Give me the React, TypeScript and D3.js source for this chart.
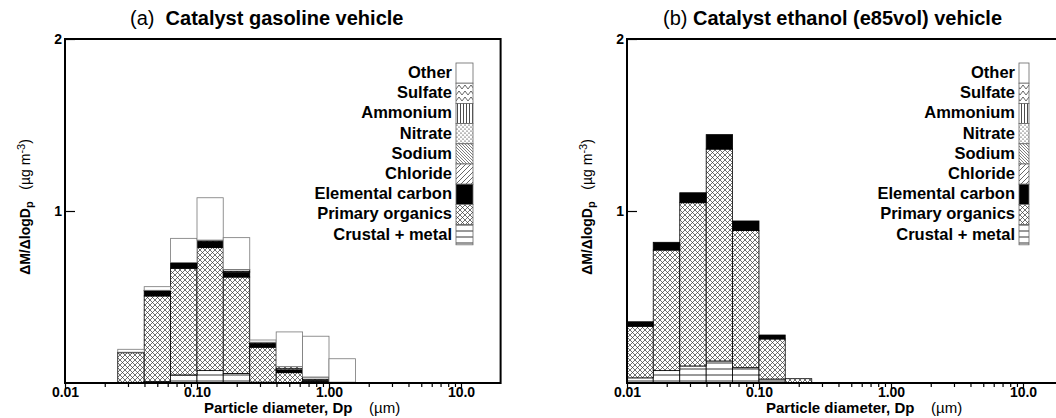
import React, { useEffect, useRef } from "react";
import * as d3 from "d3";

// stacking order, bottom to top
const keys = ["crustal", "organics", "ec", "chloride", "sodium", "nitrate", "ammonium", "sulfate", "other"];
// legend, top to bottom
const legendKeys = ["other", "sulfate", "ammonium", "nitrate", "sodium", "chloride", "ec", "organics", "crustal"];
const legendLabels = ["Other", "Sulfate", "Ammonium", "Nitrate", "Sodium", "Chloride", "Elemental carbon", "Primary organics", "Crustal + metal"];

const xTickValues = [0.01, 0.1, 1, 10];
const xTickLabels = ["0.01", "0.10", "1.00", "10.0"];
const yTickValues = [1, 2];

// (a) catalyst gasoline vehicle, bin edges in um
const gasEdges = [0.0251, 0.0398, 0.0631, 0.1, 0.158, 0.251, 0.398, 0.631, 1.0, 1.585];
const gasCrustal = [0.004, 0.008, 0.047, 0.072, 0.056, 0.005, 0.003, 0.002, 0];
const gasOrganics = [0.172, 0.498, 0.62, 0.715, 0.56, 0.203, 0.057, 0.008, 0.001];
const gasEC = [0.003, 0.03, 0.033, 0.033, 0.028, 0.019, 0.016, 0.004, 0.004];
const gasChloride = [0, 0, 0, 0, 0, 0, 0, 0, 0];
const gasSodium = [0, 0, 0, 0, 0, 0, 0, 0, 0];
const gasNitrate = [0, 0, 0, 0.004, 0.006, 0.004, 0.007, 0.008, 0];
const gasAmmonium = [0, 0, 0, 0, 0, 0, 0, 0, 0];
const gasSulfate = [0, 0.003, 0, 0.007, 0.01, 0.006, 0.012, 0.013, 0];
const gasOther = [0.017, 0.021, 0.141, 0.246, 0.185, 0.013, 0.202, 0.237, 0.136];

// (b) catalyst ethanol (e85vol) vehicle
const ethEdges = [0.01, 0.0158, 0.0251, 0.0398, 0.0631, 0.1, 0.158, 0.251];
const ethCrustal = [0.03, 0.072, 0.099, 0.128, 0.089, 0.023, 0];
const ethOrganics = [0.3, 0.701, 0.949, 1.232, 0.797, 0.233, 0.025];
const ethEC = [0.026, 0.045, 0.058, 0.084, 0.056, 0.023, 0];
const ethChloride = [0, 0, 0, 0, 0, 0, 0];
const ethSodium = [0, 0, 0, 0, 0, 0, 0];
const ethNitrate = [0, 0, 0, 0, 0, 0, 0];
const ethAmmonium = [0, 0, 0, 0, 0, 0, 0];
const ethSulfate = [0, 0, 0, 0, 0, 0, 0];
const ethOther = [0, 0, 0, 0, 0, 0, 0];

const FONT = "'Liberation Sans', Arial, Helvetica, sans-serif";

const fills = {
  crustal: "url(#p-crust)",
  organics: "url(#p-org)",
  ec: "#000",
  chloride: "url(#p-chl)",
  sodium: "url(#p-sod)",
  nitrate: "url(#p-nit)",
  ammonium: "url(#p-amm)",
  sulfate: "url(#p-sul)",
  other: "#fff",
};

function makeRows(edges, cols) {
  return edges.slice(0, -1).map((lo, i) => {
    const r = { lo: lo, hi: edges[i + 1] };
    keys.forEach((k) => (r[k] = cols[k][i]));
    return r;
  });
}

function addPatterns(defs) {
  const pat = (id, w, h) => {
    const p = defs
      .append("pattern")
      .attr("id", id)
      .attr("patternUnits", "userSpaceOnUse")
      .attr("width", w)
      .attr("height", h);
    p.append("rect").attr("width", w).attr("height", h).attr("fill", "#fff");
    return p;
  };
  pat("p-org", 5, 5)
    .append("path")
    .attr("d", "M0,0L5,5M5,0L0,5")
    .attr("stroke", "#333")
    .attr("stroke-width", 0.7);
  pat("p-crust", 6, 6)
    .append("path")
    .attr("d", "M0,3H6")
    .attr("stroke", "#000")
    .attr("stroke-width", 0.8);
  pat("p-chl", 5, 5)
    .append("path")
    .attr("d", "M0,5L5,0M-1,1L1,-1M4,6L6,4")
    .attr("stroke", "#000")
    .attr("stroke-width", 0.6);
  pat("p-sod", 3, 3)
    .append("path")
    .attr("d", "M0,0L3,3M-1,2L1,4M2,-1L4,1")
    .attr("stroke", "#000")
    .attr("stroke-width", 0.5);
  const nit = pat("p-nit", 4, 4);
  nit.append("circle").attr("cx", 1).attr("cy", 1).attr("r", 0.6).attr("fill", "#000");
  nit.append("circle").attr("cx", 3).attr("cy", 3).attr("r", 0.6).attr("fill", "#000");
  pat("p-amm", 3, 3)
    .append("path")
    .attr("d", "M1.5,0V3")
    .attr("stroke", "#000")
    .attr("stroke-width", 0.7);
  pat("p-sul", 6, 6)
    .append("path")
    .attr("d", "M0,5L3,1L6,5")
    .attr("fill", "none")
    .attr("stroke", "#000")
    .attr("stroke-width", 0.6);
}

function drawPanel(svg, p) {
  const top = 39,
    bottom = 383,
    decade = 132;
  const x = d3
    .scaleLog()
    .domain([0.01, Math.pow(10, 1.3)])
    .range([p.left, p.left + 3.3 * decade]);
  const y = d3.scaleLinear().domain([0, 2]).range([bottom, top]);
  const g = svg.append("g");

  const series = d3.stack().keys(keys)(p.rows);
  series.forEach((layer) => {
    g.append("g")
      .selectAll("rect")
      .data(layer.filter((d) => d[1] - d[0] > 0))
      .enter()
      .append("rect")
      .attr("x", (d) => x(d.data.lo))
      .attr("width", (d) => x(d.data.hi) - x(d.data.lo))
      .attr("y", (d) => y(d[1]))
      .attr("height", (d) => y(d[0]) - y(d[1]))
      .attr("fill", fills[layer.key])
      .attr("stroke", layer.key === "other" ? "#777" : "#000")
      .attr("stroke-width", 0.8);
  });

  // frame
  g.append("rect")
    .attr("x", p.left)
    .attr("y", top)
    .attr("width", 3.3 * decade)
    .attr("height", bottom - top)
    .attr("fill", "none")
    .attr("stroke", "#000")
    .attr("stroke-width", 2);

  // x axis: minor + major ticks
  const minor = [];
  [0.01, 0.1, 1, 10].forEach((d) => {
    for (let k = 2; k <= 9; k++) if (d * k < 19.9) minor.push(d * k);
  });
  const axisMinor = g
    .append("g")
    .attr("transform", "translate(0," + bottom + ")")
    .call(d3.axisBottom(x).tickValues(minor).tickSize(4).tickFormat(() => ""));
  axisMinor.select(".domain").remove();
  const axisMajor = g
    .append("g")
    .attr("transform", "translate(0," + bottom + ")")
    .call(
      d3
        .axisBottom(x)
        .tickValues(xTickValues)
        .tickSize(6)
        .tickPadding(-2)
        .tickFormat((d, i) => xTickLabels[i])
    );
  axisMajor.select(".domain").remove();
  axisMajor
    .selectAll("text")
    .attr("font-family", FONT)
    .attr("font-weight", "bold")
    .attr("font-size", 14)
    .attr("fill", "#000");
  g.selectAll(".tick line").attr("stroke", "#000").attr("stroke-width", 1.2);

  // y axis
  const axisY = g
    .append("g")
    .attr("transform", "translate(" + p.left + ",0)")
    .call(
      d3
        .axisLeft(y)
        .tickValues(yTickValues)
        .tickSizeInner(-10)
        .tickSizeOuter(0)
        .tickPadding(3)
        .tickFormat(d3.format("d"))
    );
  axisY.select(".domain").remove();
  axisY.selectAll("line").attr("stroke", "#000").attr("stroke-width", 1.2);
  axisY
    .selectAll("text")
    .attr("font-family", FONT)
    .attr("font-weight", "bold")
    .attr("font-size", 14)
    .attr("fill", "#000");

  // legend
  const rowH = 20.2;
  legendKeys.forEach((k, i) => {
    const ty = 63 + i * rowH;
    g.append("rect")
      .attr("x", p.legendX)
      .attr("y", ty)
      .attr("width", p.legendW)
      .attr("height", rowH)
      .attr("fill", fills[k])
      .attr("stroke", "#666")
      .attr("stroke-width", 0.8);
    g.append("text")
      .attr("x", p.legendX - 4)
      .attr("y", ty + 15)
      .attr("text-anchor", "end")
      .attr("font-family", FONT)
      .attr("font-weight", "bold")
      .attr("font-size", 16.5)
      .text(legendLabels[i]);
  });

  // title
  const title = g
    .append("text")
    .attr("x", p.titleX)
    .attr("y", 25)
    .attr("font-family", FONT)
    .attr("font-size", 20)
    .style("white-space", "pre");
  title.append("tspan").text(p.tag);
  title.append("tspan").attr("font-weight", "bold").text(p.title);

  // x label
  const xl = g
    .append("text")
    .attr("x", p.left + 139)
    .attr("y", 413)
    .attr("font-family", FONT)
    .attr("font-size", 15)
    .style("white-space", "pre");
  xl.append("tspan").attr("font-weight", "bold").text("Particle diameter, Dp");
  xl.append("tspan").text("    (\u00b5m)");

  // y label
  const yl = g
    .append("text")
    .attr("transform", "translate(" + (p.left - 35) + ",207) rotate(-90)")
    .attr("text-anchor", "middle")
    .attr("font-family", FONT)
    .attr("font-weight", "bold")
    .attr("font-size", 14)
    .style("white-space", "pre");
  yl.append("tspan").text("\u0394M/\u0394logD");
  yl.append("tspan").attr("dy", 3).attr("font-size", 11).text("p");
  yl.append("tspan").attr("dy", -3).attr("font-weight", "normal").text("   (\u00b5g m");
  yl.append("tspan").attr("dy", -5).attr("font-size", 11).attr("font-weight", "normal").text("-3");
  yl.append("tspan").attr("dy", 5).attr("font-weight", "normal").text(")");
}

function App() {
  const ref = useRef(null);
  useEffect(() => {
    const svg = d3.select(ref.current);
    svg.selectAll("*").remove();
    addPatterns(svg.append("defs"));

    drawPanel(svg, {
      left: 65,
      rows: makeRows(gasEdges, {
        crustal: gasCrustal,
        organics: gasOrganics,
        ec: gasEC,
        chloride: gasChloride,
        sodium: gasSodium,
        nitrate: gasNitrate,
        ammonium: gasAmmonium,
        sulfate: gasSulfate,
        other: gasOther,
      }),
      legendX: 456,
      legendW: 17,
      titleX: 130,
      tag: "(a)  ",
      title: "Catalyst gasoline vehicle",
    });

    drawPanel(svg, {
      left: 627,
      rows: makeRows(ethEdges, {
        crustal: ethCrustal,
        organics: ethOrganics,
        ec: ethEC,
        chloride: ethChloride,
        sodium: ethSodium,
        nitrate: ethNitrate,
        ammonium: ethAmmonium,
        sulfate: ethSulfate,
        other: ethOther,
      }),
      legendX: 1019,
      legendW: 10,
      titleX: 663,
      tag: "(b) ",
      title: "Catalyst ethanol (e85vol) vehicle",
    });
  }, []);

  return (
    <svg
      ref={ref}
      width={1056}
      height={418}
      style={{ position: "absolute", left: 0, top: 0, background: "#fff" }}
    />
  );
}

export default App;
